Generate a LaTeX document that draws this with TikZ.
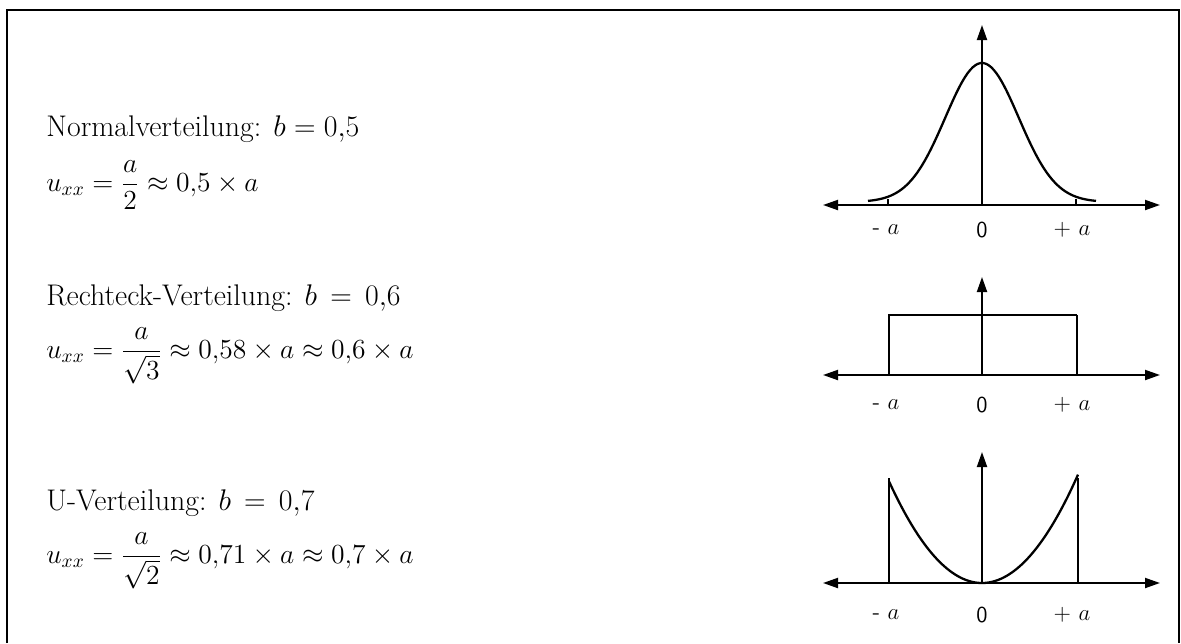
\RequirePackage{fix-cm}
\documentclass[tikz,border=0pt]{standalone}
\usepackage{amsmath}
\usepackage{amssymb}
\usetikzlibrary{arrows.meta}

\begin{document}
\begin{tikzpicture}[x=0.02cm, y=-0.02cm,
    axis/.style={line width=1.1pt, {Triangle[length=0.3cm,width=0.2cm]}-{Triangle[length=0.3cm,width=0.2cm]}},
    yaxis/.style={line width=1.1pt, -{Triangle[length=0.3cm,width=0.2cm]}},
    curve/.style={line width=1.3pt},
    thinedge/.style={line width=0.6pt},
    ticklabel/.style={font=\sffamily\fontsize{13}{15}\selectfont},
    caption/.style={anchor=base west, inner sep=0pt, font=\fontsize{17}{20}\selectfont},
    formula/.style={anchor=base west, inner sep=0pt, font=\fontsize{15.7}{19}\selectfont}]
    \useasboundingbox (0,0) rectangle (1181,643);
    \draw[line width=1.1pt] (7,643) -- (7,10) -- (1179,10) -- (1179,643);
    % texts on the left
    \node[caption] (normtxt) at (46,136) {Normalverteilung: $b = 0{,}5$};
    \node[formula] (normeq) at (46,191) {$u_{xx} = \dfrac{a}{2} \approx 0{,}5 \times a$};
    \node[caption] (recttxt) at (46,305) {Rechteck-Verteilung: $b\,=\,0{,}6$};
    \node[formula] (recteq) at (46,358) {$u_{xx} = \dfrac{a}{\sqrt{3}} \approx 0{,}58 \times a \approx 0{,}6 \times a$};
    \node[caption] (utxt) at (46,510) {U-Verteilung: $b\,=\,0{,}7$};
    \node[formula] (ueq) at (46,563) {$u_{xx} = \dfrac{a}{\sqrt{2}} \approx 0{,}71 \times a \approx 0{,}7 \times a$};
    % normal distribution
    \begin{scope}[shift={(982,205)}, yscale=-1]
        \draw[axis] (-159,0) -- (178,0);
        \draw[yaxis] (0,0) -- (0,180);
        \draw[curve] plot[domain=-114:114, samples=90, smooth] (\x, {3+139*exp(-(\x*\x)/2700)});
        \draw[thinedge] (-94,0) -- (-94,6);
        \draw[thinedge] (94,0) -- (94,6);
        \node[ticklabel] (nma) at (-96,-25) {- $a$};
        \node[ticklabel] (nzero) at (0,-25) {0};
        \node[ticklabel] (npa) at (90,-25) {+ $a$};
    \end{scope}
    % rectangular distribution
    \begin{scope}[shift={(982,375)}, yscale=-1]
        \draw[axis] (-159,0) -- (178,0);
        \draw[yaxis] (0,0) -- (0,98);
        \draw[curve] (-93,0) -- (-93,60) -- (95,60);
        \draw[thinedge] (95,60) -- (95,0);
        \node[ticklabel] (rma) at (-96,-30) {- $a$};
        \node[ticklabel] (rzero) at (0,-30) {0};
        \node[ticklabel] (rpa) at (90,-30) {+ $a$};
    \end{scope}
    % U distribution
    \begin{scope}[shift={(982,583)}, yscale=-1]
        \draw[axis] (-159,0) -- (178,0);
        \draw[yaxis] (0,0) -- (0,131);
        \draw[thinedge] (-93,0) -- (-93,105);
        \draw[thinedge] (96,0) -- (96,105);
        \draw[curve] plot[domain=-93:96, samples=60, smooth] (\x, {105*(\x/94.5)^2});
        \node[ticklabel] (uma) at (-96,-32) {- $a$};
        \node[ticklabel] (uzero) at (0,-32) {0};
        \node[ticklabel] (upa) at (90,-32) {+ $a$};
    \end{scope}
\end{tikzpicture}
\end{document}
